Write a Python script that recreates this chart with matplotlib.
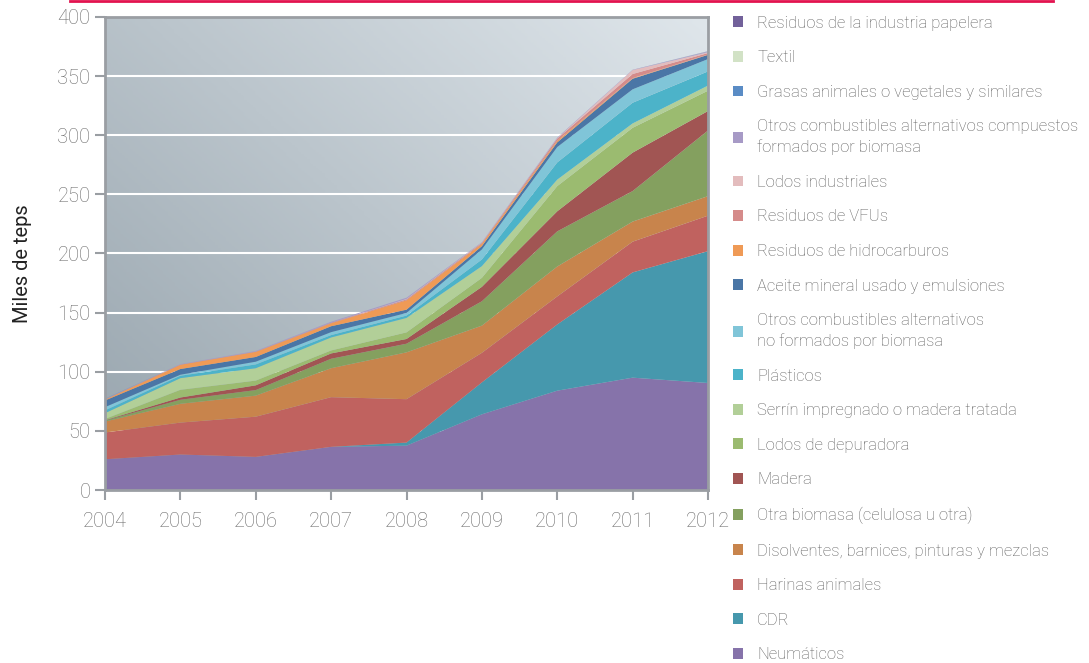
import numpy as np
import matplotlib
matplotlib.use("Agg")
import matplotlib.pyplot as plt
from matplotlib.patches import Patch
from matplotlib.lines import Line2D
from matplotlib.colors import LinearSegmentedColormap

plt.rcParams['font.family'] = ['Roboto', 'DejaVu Sans']
plt.rcParams['font.weight'] = 'light'

years = [2004, 2005, 2006, 2007, 2008, 2009, 2010, 2011, 2012]

# series, bottom of the stack first (miles de teps)
neumaticos = [26, 30, 28, 36.5, 37.5, 64, 84, 95, 90.5]
cdr = [0, 0, 0, 0, 2.6, 27, 56, 89, 111.5]
harinas = [22.6, 27, 34, 42, 36.7, 25, 23.7, 26, 30]
disolventes = [9.3, 15.9, 17.8, 24.5, 39.6, 23, 25.3, 17, 16.5]
otra_biomasa = [0.8, 3.4, 4.7, 8, 7.3, 20.6, 29.7, 25.8, 55.5]
madera = [0.3, 1.9, 4.0, 4.5, 4.0, 12.2, 17, 32.5, 16.5]
lodos_depuradora = [1.0, 6.5, 4.0, 2.5, 5.6, 7.6, 21.3, 21, 17.2]
serrin = [5.0, 9.9, 10.5, 11, 12.2, 9.9, 5.5, 3.7, 4.3]
plasticos = [2.3, 2.0, 3.2, 2, 2.0, 5.6, 14.5, 17.5, 12]
otros_no_biomasa = [2.8, 0.9, 2.3, 2.5, 2.2, 8.5, 13, 11.3, 10.4]
aceite_mineral = [5.6, 4.8, 4.0, 5, 2.8, 2.8, 4, 9, 3.6]
hidrocarburos = [0.7, 3.6, 4.3, 2.5, 7.9, 2.0, 1.3, 0.5, 0.3]
vfus = [0.2, 0.2, 0.3, 0.5, 0.8, 0.8, 1.9, 3.5, 1.2]
lodos_industriales = [0, 0, 0, 0, 0.4, 0.3, 0.3, 3.3, 0.7]
otros_biomasa = [0.3, 0.4, 0.5, 0.8, 1.0, 0.3, 0.5, 0.3, 0.6]
grasas = [0.2, 0, 0, 0, 0, 0, 0, 0, 0.1]
textil = [0, 0, 0, 0, 0, 0, 0, 0, 0.1]
papelera = [0, 0, 0, 0, 0, 0, 0, 0, 0.1]

series = [neumaticos, cdr, harinas, disolventes, otra_biomasa, madera,
          lodos_depuradora, serrin, plasticos, otros_no_biomasa, aceite_mineral,
          hidrocarburos, vfus, lodos_industriales, otros_biomasa, grasas,
          textil, papelera]
labels = ['Neumáticos', 'CDR', 'Harinas animales',
          'Disolventes, barnices, pinturas y mezclas',
          'Otra biomasa (celulosa u otra)', 'Madera', 'Lodos de depuradora',
          'Serrín impregnado o madera tratada', 'Plásticos',
          'Otros combustibles alternativos\nno formados por biomasa',
          'Aceite mineral usado y emulsiones', 'Residuos de hidrocarburos',
          'Residuos de VFUs', 'Lodos industriales',
          'Otros combustibles alternativos compuestos\nformados por biomasa',
          'Grasas animales o vegetales y similares', 'Textil',
          'Residuos de la industria papelera']
colors = ['#8673aa', '#4698ad', '#c0625f', '#c8844c', '#84a05f', '#a15553',
          '#9bbb70', '#b2cf98', '#4cb3c9', '#80c5d8', '#4a76a6', '#ef9a56',
          '#d58b8a', '#e3bcbd', '#a79ac6', '#5a8cc5', '#d2e2c6', '#72619a']

fig = plt.figure(figsize=(10.89, 6.63), dpi=100)
ax = fig.add_axes([105 / 1089, 1 - 490 / 663, 603 / 1089, 473 / 663])

# diagonal gradient background
gx, gy = np.meshgrid(np.linspace(0, 1, 200), np.linspace(0, 1, 200))
grad = 0.55 * gx + 0.45 * gy
cmap = LinearSegmentedColormap.from_list('bg', ['#97a4ad', '#dfe6eb'])
ax.imshow(grad, extent=[0, 1, 0, 1], transform=ax.transAxes, origin='lower',
          cmap=cmap, aspect='auto', zorder=0)

for y in range(50, 400, 50):
    ax.axhline(y, color='white', lw=1.5, zorder=1)

ax.stackplot(years, *series, colors=colors, linewidth=0, zorder=2)

ax.set_xlim(2004, 2012)
ax.set_ylim(0, 400)
ax.set_xticks(years)
ax.set_yticks(range(0, 401, 50))
for s in ax.spines.values():
    s.set_color('#9a9ea3')
    s.set_linewidth(2)
ax.tick_params(colors='#9a9ea3', width=1.5, length=7, labelsize=14.5,
               labelcolor='#6a6a6a')
ax.tick_params(axis='x', pad=9)
ax.set_ylabel('Miles de teps', fontsize=14.5, color='#222222',
              fontweight='normal')
ax.yaxis.set_label_coords(-0.121, 0.478)

handles = [Patch(facecolor=c, edgecolor='none') for c in colors][::-1]
leg = fig.legend(handles, labels[::-1], loc='upper left',
                 bbox_to_anchor=(726 / 1089, 1 - 9 / 663), frameon=False,
                 fontsize=12, labelcolor='#5e5e5e', handlelength=0.62,
                 handleheight=0.62, handletextpad=0.85, labelspacing=1.175,
                 borderaxespad=0)
for t in leg.get_texts():
    t.set_linespacing(1.4)

fig.add_artist(Line2D([70 / 1089, 1053 / 1089], [1 - 1 / 663, 1 - 1 / 663],
                      color='#e2134f', lw=2))

fig.savefig('out.png', dpi=100)
